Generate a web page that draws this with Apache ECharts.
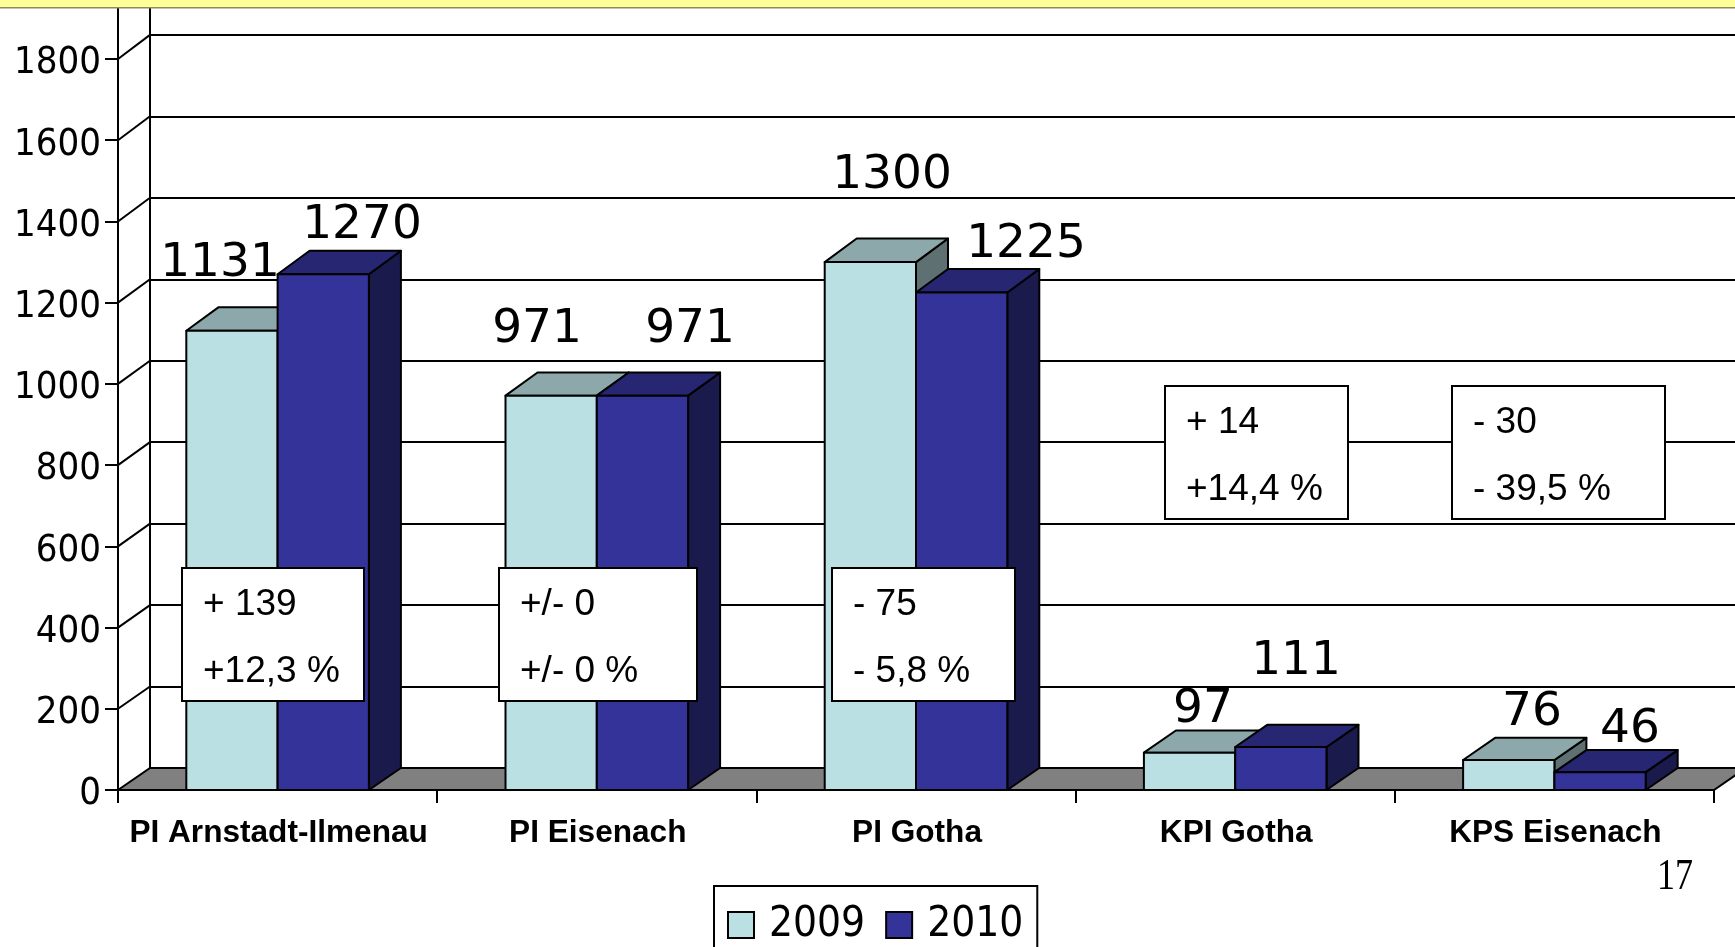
<!DOCTYPE html>
<html>
<head>
<meta charset="utf-8">
<style>
	html, body { margin: 0; padding: 0; background: #fff; }
	#chart { width: 1735px; height: 947px; }
</style>
<script src="https://cdn.jsdelivr.net/npm/echarts@6/dist/echarts.min.js"></script>
</head>
<body>
<div id="chart"></div>
<script>
	// data
	const categories = ["PI Arnstadt-Ilmenau", "PI Eisenach", "PI Gotha", "KPI Gotha", "KPS Eisenach"];
	const years = ["2009", "2010"];
	const values2009 = [1131, 971, 1300, 97, 76];
	const values2010 = [1270, 971, 1225, 111, 46];
	// bar heights of the two small stations sit a bit below their printed numbers
	const heights2009 = [1131, 971, 1300, 92, 74];
	const heights2010 = [1270, 971, 1225, 106, 44];
	const yTicks = [0, 200, 400, 600, 800, 1000, 1200, 1400, 1600, 1800];
	const notes = [
		["+ 139", "+12,3 %"],
		["+/- 0", "+/- 0 %"],
		["- 75", "- 5,8 %"],
		["+ 14", "+14,4 %"],
		["- 30", "- 39,5 %"],
	];

	// layout of the hand placed text
	const noteBoxes = [
		[182, 568, 182, 133],
		[499, 568, 198, 133],
		[832, 568, 183, 133],
		[1165, 386, 183, 133],
		[1452, 386, 213, 133],
	];
	// label centre x and baseline y in page pixels
	const labelPos2009 = [[220, 279], [537, 345], [892, 191], [1203, 725], [1532, 728]];
	const labelPos2010 = [[362, 241], [690, 345], [1026, 260], [1296, 677], [1630, 745]];

	const depthX = 32;
	const barWidthRatio = 0.286;
	const labelFont = '"DejaVu Sans", sans-serif';
	const axisFont = '"DejaVu Sans Condensed", "DejaVu Sans", sans-serif';
	const arial = '"Liberation Sans", Arial, sans-serif';

	function depthY(v) {
		return -22 - v * 0.0012;
	}

	function renderFloor(params, api) {
		let cs = params.coordSys;
		let y0 = api.coord([0, 0])[1];
		let x0 = cs.x, x1 = cs.x + cs.width;
		return {
			type: "polygon",
			shape: { points: [[x0, y0], [x0 + depthX, y0 - 22], [x1 + depthX, y0 - 22], [x1, y0]] },
			style: { fill: "#808080", stroke: "#000", lineWidth: 2 },
		};
	}

	function renderDiagonal(params, api) {
		let v = api.value(0);
		let p = api.coord([0, v]);
		let x0 = params.coordSys.x;
		return {
			type: "line",
			shape: { x1: x0, y1: p[1], x2: x0 + depthX, y2: p[1] + depthY(v) },
			style: { stroke: "#000", lineWidth: 2 },
		};
	}

	function makeBarRender(front, top, side, slot) {
		return function (params, api) {
			let idx = api.value(0);
			let val = api.value(1);
			let band = api.size([1, 0])[0];
			let w = band * barWidthRatio;
			let c = api.coord([idx, val]);
			let base = api.coord([idx, 0]);
			let xl = c[0] + (slot === 0 ? -w : 0);
			let xr = xl + w;
			let dt = depthY(val);
			let db = depthY(0);
			let line = { stroke: "#000", lineWidth: 2, lineJoin: "round" };
			return {
				type: "group",
				children: [
					{
						type: "polygon",
						shape: { points: [[xr, c[1]], [xr + depthX, c[1] + dt], [xr + depthX, base[1] + db], [xr, base[1]]] },
						style: Object.assign({ fill: side }, line),
					},
					{
						type: "polygon",
						shape: { points: [[xl, c[1]], [xl + depthX, c[1] + dt], [xr + depthX, c[1] + dt], [xr, c[1]]] },
						style: Object.assign({ fill: top }, line),
					},
					{
						type: "rect",
						shape: { x: xl, y: c[1], width: w, height: base[1] - c[1] },
						style: Object.assign({ fill: front }, line),
					},
				],
			};
		};
	}

	function toBarData(arr) {
		return arr.map((v, i) => [i, v]);
	}

	function barSeries(name, heights, front, top, side, slot) {
		return {
			type: "custom",
			name: name,
			silent: true,
			z: 3,
			xAxisIndex: 0,
			yAxisIndex: 0,
			itemStyle: { color: front },
			renderItem: makeBarRender(front, top, side, slot),
			encode: { x: 0, y: 1 },
			data: toBarData(heights),
		};
	}

	function makeLabels(values, pos) {
		return values.map((v, i) => ({
			type: "text",
			z: 60,
			silent: true,
			style: {
				x: pos[i][0],
				y: pos[i][1] + 8,
				text: String(v),
				font: '47px ' + labelFont,
				fill: "#000",
				textAlign: "center",
				textVerticalAlign: "bottom",
			},
		}));
	}

	function makeNotes() {
		let out = [];
		notes.forEach((lines, i) => {
			let b = noteBoxes[i];
			out.push({
				type: "rect",
				z: 70,
				silent: true,
				shape: { x: b[0], y: b[1], width: b[2], height: b[3] },
				style: { fill: "#fff", stroke: "#000", lineWidth: 2 },
			});
			lines.forEach((t, j) => {
				out.push({
					type: "text",
					z: 71,
					silent: true,
					style: {
						x: b[0] + 21,
						y: b[1] + 37 + j * 67,
						text: t,
						font: '37px ' + arial,
						fill: "#000",
						textAlign: "left",
						textVerticalAlign: "middle",
					},
				});
			});
		});
		return out;
	}

	let option = {
		animation: false,
		backgroundColor: "#fff",
		legend: {
			data: years,
			left: 714,
			top: 886,
			orient: "horizontal",
			icon: "rect",
			itemWidth: 26,
			itemHeight: 26,
			itemGap: 20,
			padding: [18, 14, 30, 13],
			borderColor: "#000",
			borderWidth: 2,
			selectedMode: false,
			itemStyle: { borderColor: "#000", borderWidth: 2 },
			textStyle: { color: "#000", fontSize: 42, fontFamily: axisFont, padding: [0, 0, 0, 10] },
		},
		grid: [
			{ left: 118, top: -22.2, width: 1596, height: 812.2, outerBoundsMode: "none" },
			{ left: 150, top: -46.4, width: 1620, height: 814.4, outerBoundsMode: "none" },
		],
		xAxis: [
			{
				type: "category",
				gridIndex: 0,
				data: categories,
				z: 4,
				axisLine: { lineStyle: { color: "#000", width: 2 } },
				axisTick: { show: true, alignWithLabel: false, length: 13, lineStyle: { color: "#000", width: 2 } },
				axisLabel: { color: "#000", fontFamily: arial, fontWeight: "bold", fontSize: 31.6, margin: 27, padding: [0, 0, 0, 2], interval: 0 },
			},
			{ type: "value", gridIndex: 1, min: 0, max: 1, show: false },
		],
		yAxis: [
			{
				type: "value",
				gridIndex: 0,
				min: 0,
				max: 2000,
				interval: 200,
				axisLine: { show: true, onZero: false, lineStyle: { color: "#000", width: 2 } },
				axisTick: { show: true, length: 13, lineStyle: { color: "#000", width: 2 } },
				axisLabel: {
					color: "#000",
					fontFamily: axisFont,
					fontSize: 38,
					margin: 17,
					// labels sit a little below their ticks in the original
					verticalAlign: "top",
					lineHeight: 9,
					formatter: function (value) {
						return String(value);
					},
				},
				splitLine: { show: false },
			},
			{
				type: "value",
				gridIndex: 1,
				min: 0,
				max: 2000,
				interval: 200,
				axisLine: { show: true, onZero: false, lineStyle: { color: "#000", width: 2 } },
				axisTick: { show: false },
				axisLabel: { show: false },
				splitLine: { show: true, lineStyle: { color: "#000", width: 2 } },
			},
		],
		series: [
			{
				type: "custom",
				silent: true,
				z: 2,
				xAxisIndex: 0,
				yAxisIndex: 0,
				renderItem: renderFloor,
				data: [[0, 0]],
			},
			{
				type: "custom",
				silent: true,
				z: 2,
				xAxisIndex: 0,
				yAxisIndex: 0,
				renderItem: renderDiagonal,
				encode: { y: 0 },
				data: yTicks.slice(1).map((v) => [v]),
			},
			barSeries(years[0], heights2009, "#BBE0E3", "#8CA8AA", "#5E7072", 0),
			barSeries(years[1], heights2010, "#333399", "#262673", "#1A1A4D", 1),
		],
		graphic: [
			{ type: "rect", z: 80, silent: true, shape: { x: 0, y: 0, width: 1735, height: 7 }, style: { fill: "#FFFF99" } },
			{ type: "rect", z: 80, silent: true, shape: { x: 0, y: 7, width: 1735, height: 1.5 }, style: { fill: "#8C8C5A" } },
			{
				type: "text",
				z: 80,
				silent: true,
				scaleY: 1.25,
				originX: 1675,
				originY: 877,
				style: {
					x: 1675,
					y: 877,
					text: "17",
					font: '36px "Liberation Serif", serif',
					fill: "#000",
					textAlign: "center",
					textVerticalAlign: "middle",
				},
			},
		]
			.concat(makeLabels(values2009, labelPos2009))
			.concat(makeLabels(values2010, labelPos2010))
			.concat(makeNotes()),
	};

	let myChart = echarts.init(document.getElementById("chart"));
	myChart.setOption(option);
</script>
</body>
</html>
